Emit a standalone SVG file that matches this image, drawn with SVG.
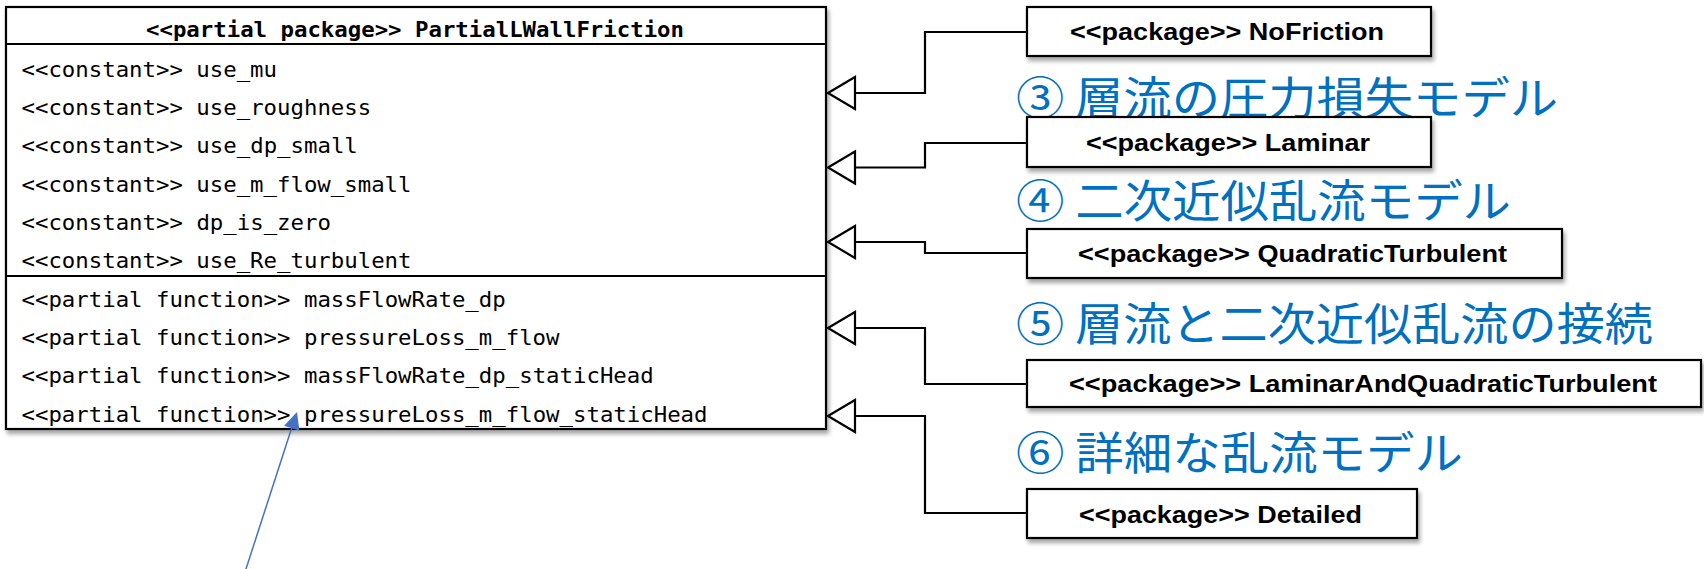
<svg xmlns="http://www.w3.org/2000/svg" width="1704" height="569" viewBox="0 0 1704 569">
<style>
.box{fill:#fff;stroke:#000;stroke-width:2.2}
.sep{stroke:#000;stroke-width:2.2}
.mono{font-family:"DejaVu Sans Mono","Liberation Mono",monospace;font-size:22px;fill:#000}
.monob{font-family:"DejaVu Sans Mono","Liberation Mono",monospace;font-size:22px;font-weight:bold;fill:#000}
.pkg{font-family:"Liberation Sans",Arial,sans-serif;font-size:23px;font-weight:bold;fill:#000}
.jp{font-family:"Noto Sans CJK JP","Noto Sans CJK SC",sans-serif;font-size:45px;fill:#0070C0}
.conn{fill:none;stroke:#000;stroke-width:2.2}
.tri{fill:#fff;stroke:#000;stroke-width:2.2}
</style>
<defs>
<filter id="sh" x="-5%" y="-20%" width="110%" height="150%">
<feDropShadow dx="2" dy="4" stdDeviation="2" flood-color="#000" flood-opacity="0.35"/>
</filter>
</defs>
<rect width="1704" height="569" fill="#fff"/>

<g id="labels">
<text class="jp" x="1016" y="115" textLength="542" lengthAdjust="spacingAndGlyphs">③ 層流の圧力損失モデル</text>
<text class="jp" x="1016" y="218" textLength="495" lengthAdjust="spacingAndGlyphs">④ 二次近似乱流モデル</text>
<text class="jp" x="1016" y="341" textLength="637" lengthAdjust="spacingAndGlyphs">⑤ 層流と二次近似乱流の接続</text>
<text class="jp" x="1016" y="470" textLength="447" lengthAdjust="spacingAndGlyphs">⑥ 詳細な乱流モデル</text>
</g>

<g id="PartialLWallFriction">
<rect class="box" x="6" y="7" width="820" height="422" filter="url(#sh)"/>
<line class="sep" x1="6" y1="44" x2="826" y2="44"/>
<line class="sep" x1="6" y1="276" x2="826" y2="276"/>
<text class="monob" x="146" y="37" textLength="538" lengthAdjust="spacingAndGlyphs">&lt;&lt;partial package&gt;&gt; PartialLWallFriction</text>
<text class="mono" x="21.5" y="77" textLength="255.5" lengthAdjust="spacingAndGlyphs">&lt;&lt;constant&gt;&gt; use_mu</text>
<text class="mono" x="21.5" y="115" textLength="349.7" lengthAdjust="spacingAndGlyphs">&lt;&lt;constant&gt;&gt; use_roughness</text>
<text class="mono" x="21.5" y="153" textLength="336.3" lengthAdjust="spacingAndGlyphs">&lt;&lt;constant&gt;&gt; use_dp_small</text>
<text class="mono" x="21.5" y="192" textLength="390" lengthAdjust="spacingAndGlyphs">&lt;&lt;constant&gt;&gt; use_m_flow_small</text>
<text class="mono" x="21.5" y="230" textLength="309.4" lengthAdjust="spacingAndGlyphs">&lt;&lt;constant&gt;&gt; dp_is_zero</text>
<text class="mono" x="21.5" y="268" textLength="390" lengthAdjust="spacingAndGlyphs">&lt;&lt;constant&gt;&gt; use_Re_turbulent</text>
<text class="mono" x="21.5" y="307" textLength="484.2" lengthAdjust="spacingAndGlyphs">&lt;&lt;partial function&gt;&gt; massFlowRate_dp</text>
<text class="mono" x="21.5" y="345" textLength="538" lengthAdjust="spacingAndGlyphs">&lt;&lt;partial function&gt;&gt; pressureLoss_m_flow</text>
<text class="mono" x="21.5" y="383" textLength="632.2" lengthAdjust="spacingAndGlyphs">&lt;&lt;partial function&gt;&gt; massFlowRate_dp_staticHead</text>
<text class="mono" x="21.5" y="421.5" textLength="686" lengthAdjust="spacingAndGlyphs">&lt;&lt;partial function&gt;&gt; pressureLoss_m_flow_staticHead</text>
</g>

<g id="NoFriction">
<rect class="box" x="1027" y="7" width="404" height="49" filter="url(#sh)"/>
<text class="pkg" x="1070" y="40" textLength="314" lengthAdjust="spacingAndGlyphs">&lt;&lt;package&gt;&gt; NoFriction</text>
</g>
<g id="Laminar">
<rect class="box" x="1027" y="117" width="404" height="50" filter="url(#sh)"/>
<text class="pkg" x="1086" y="151" textLength="284" lengthAdjust="spacingAndGlyphs">&lt;&lt;package&gt;&gt; Laminar</text>
</g>
<g id="QuadraticTurbulent">
<rect class="box" x="1027" y="229" width="535" height="49" filter="url(#sh)"/>
<text class="pkg" x="1078" y="262" textLength="429" lengthAdjust="spacingAndGlyphs">&lt;&lt;package&gt;&gt; QuadraticTurbulent</text>
</g>
<g id="LaminarAndQuadraticTurbulent">
<rect class="box" x="1027" y="360" width="674" height="47" filter="url(#sh)"/>
<text class="pkg" x="1069" y="392" textLength="588" lengthAdjust="spacingAndGlyphs">&lt;&lt;package&gt;&gt; LaminarAndQuadraticTurbulent</text>
</g>
<g id="Detailed">
<rect class="box" x="1027" y="489" width="390" height="49" filter="url(#sh)"/>
<text class="pkg" x="1079" y="523" textLength="283" lengthAdjust="spacingAndGlyphs">&lt;&lt;package&gt;&gt; Detailed</text>
</g>

<g id="connectors">
<polyline class="conn" points="1027,32 925,32 925,93 855,93"/>
<polygon class="tri" points="828,93 855,77 855,109"/>
<polyline class="conn" points="1027,143 925,143 925,167.5 855,167.5"/>
<polygon class="tri" points="828,167.5 855,151.5 855,183.5"/>
<polyline class="conn" points="1027,253 925,253 925,242 855,242"/>
<polygon class="tri" points="828,242 855,226 855,258"/>
<polyline class="conn" points="1027,384 925,384 925,328 855,328"/>
<polygon class="tri" points="828,328 855,312 855,344"/>
<polyline class="conn" points="1027,513 925,513 925,416 855,416"/>
<polygon class="tri" points="828,416 855,400 855,432"/>
<line x1="245" y1="572" x2="292" y2="427" stroke="#4472C4" stroke-width="1.5"/>
<polygon points="297,412 299.4,430.7 284.1,425.7" fill="#4472C4"/>
</g>
</svg>
